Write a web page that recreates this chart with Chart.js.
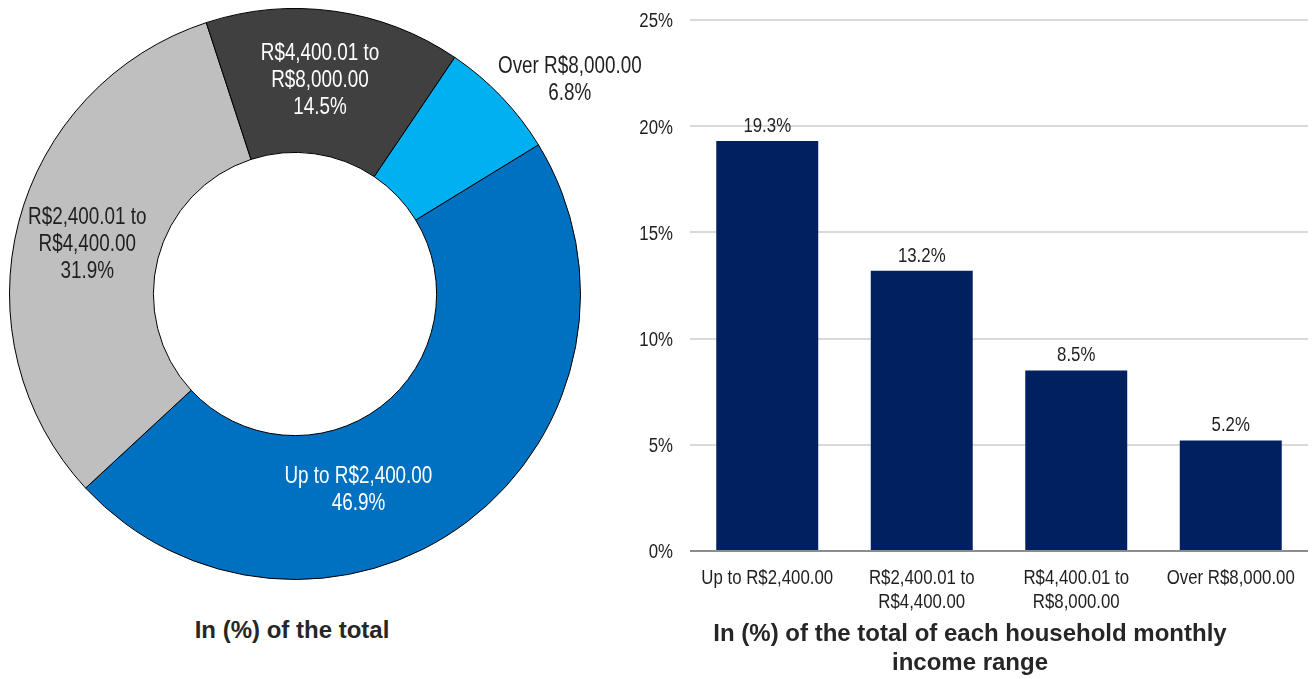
<!DOCTYPE html>
<html>
<head>
<meta charset="utf-8">
<script src="https://cdn.jsdelivr.net/npm/chart.js@4.4.1/dist/chart.umd.min.js"></script>
<style>
  html, body { margin: 0; padding: 0; background: #fff; width: 1312px; height: 679px; overflow: hidden; }
  #pie { position: absolute; left: 0; top: 0; }
  #bars { position: absolute; left: 620px; top: 0; }
  .ttl { position: absolute; font-family: "Liberation Sans", Arial, sans-serif; font-weight: bold;
         font-size: 24px; line-height: 29px; color: #262626; text-align: center; white-space: nowrap; }
</style>
</head>
<body>
<canvas id="pie" width="660" height="600"></canvas>
<canvas id="bars" width="692" height="620"></canvas>
<div class="ttl" style="left:92px; top:615px; width:400px;">In (%) of the total</div>
<div class="ttl" style="left:670px; top:618px; width:600px;">In (%) of the total of each household monthly<br>income range</div>

<script>
// Household monthly income ranges
const categories = [
  ["Up to R$2,400.00"],
  ["R$2,400.01 to", "R$4,400.00"],
  ["R$4,400.01 to", "R$8,000.00"],
  ["Over R$8,000.00"]
];
// Share of the total (%)
const shareOfTotal = [46.9, 31.9, 14.5, 6.8];
// Share within each income range (%)
const shareOfRange = [19.3, 13.2, 8.5, 5.2];
// Value axis ticks (%)
const yTicks = [0, 5, 10, 15, 20, 25];

const FONT = '"Liberation Sans", Arial, sans-serif';
const SQUEEZE = 0.82;          // horizontal squeeze for a narrow face
const TEXT = '#1f1f1f';

const sliceColors = ['#0070C0', '#BFBFBF', '#404040', '#00B0F0'];
const sliceTextColors = ['#ffffff', TEXT, '#ffffff', TEXT];
// nudges of each slice label away from the slice's centre point (px)
const labelShift = [[-65.6, 24.1], [-1, 2.6], [-4.6, -3.9], [120.5, -67.8]];

const pct = v => v.toFixed(1) + '%';

// draw one line of condensed text; y is the vertical middle of the capitals
function narrowText(ctx, text, x, y, size, align) {
  ctx.save();
  ctx.font = size + 'px ' + FONT;
  ctx.textAlign = align || 'center';
  ctx.textBaseline = 'alphabetic';
  ctx.translate(x, y + 0.36 * size);
  ctx.scale(SQUEEZE, 1);
  ctx.fillText(text, 0, 0);
  ctx.restore();
}

const donutLabels = {
  id: 'donutLabels',
  afterDatasetsDraw(chart) {
    const ctx = chart.ctx;
    const meta = chart.getDatasetMeta(0);
    const size = 23, lh = 27;
    meta.data.forEach((arc, i) => {
      const c = arc.getCenterPoint();
      const x = c.x + labelShift[i][0];
      const y = c.y + labelShift[i][1];
      const lines = categories[i].concat([pct(shareOfTotal[i])]);
      ctx.fillStyle = sliceTextColors[i];
      lines.forEach((t, k) => {
        narrowText(ctx, t, x, y + (k - (lines.length - 1) / 2) * lh, size);
      });
    });
  }
};

new Chart(document.getElementById('pie'), {
  type: 'doughnut',
  data: {
    labels: categories.map(c => c.join(' ')),
    datasets: [{
      data: shareOfTotal,
      backgroundColor: sliceColors,
      borderColor: '#000000',
      borderWidth: 1
    }]
  },
  options: {
    responsive: false,
    animation: false,
    devicePixelRatio: 1,
    rotation: 58.5,
    cutout: '49.6%',
    layout: { padding: { left: 9, top: 8, right: 79, bottom: 20 } },
    plugins: { legend: { display: false }, tooltip: { enabled: false } }
  },
  plugins: [donutLabels]
});

const BAR_TEXT = 20.5;

const barText = {
  id: 'barText',
  afterDraw(chart) {
    const ctx = chart.ctx;
    const xs = chart.scales.x, ys = chart.scales.y;
    ctx.fillStyle = TEXT;
    // value labels above the bars
    chart.getDatasetMeta(0).data.forEach((bar, i) => {
      narrowText(ctx, pct(shareOfRange[i]), bar.x, bar.y - 16.5, BAR_TEXT);
    });
    // value axis labels
    yTicks.forEach(v => {
      narrowText(ctx, v + '%', ys.right - 17, ys.getPixelForValue(v), BAR_TEXT, 'right');
    });
    // category labels
    categories.forEach((lines, i) => {
      const x = xs.getPixelForTick(i);
      lines.forEach((t, k) => {
        narrowText(ctx, t, x, xs.top + 26 + k * 24, BAR_TEXT);
      });
    });
  }
};

new Chart(document.getElementById('bars'), {
  type: 'bar',
  data: {
    labels: categories,
    datasets: [{
      data: shareOfRange,
      backgroundColor: '#002060',
      categoryPercentage: 1,
      barPercentage: 0.66
    }]
  },
  options: {
    responsive: false,
    animation: false,
    devicePixelRatio: 1,
    layout: { padding: { left: 0, right: 4, top: 20, bottom: 0 } },
    scales: {
      x: {
        grid: { display: false, drawTicks: false },
        border: { display: false },
        ticks: { display: false },
        afterFit(s) { s.height = 69; }
      },
      y: {
        min: 0, max: 25,
        afterBuildTicks(s) { s.ticks = yTicks.map(v => ({ value: v })); },
        ticks: { display: false },
        grid: { drawTicks: false, lineWidth: 2,
                color: c => (c.tick && c.tick.value === 0) ? '#8c8c8c' : '#d9d9d9' },
        border: { display: false },
        afterFit(s) { s.width = 70; }
      }
    },
    plugins: { legend: { display: false }, tooltip: { enabled: false } }
  },
  plugins: [barText]
});
</script>
</body>
</html>
